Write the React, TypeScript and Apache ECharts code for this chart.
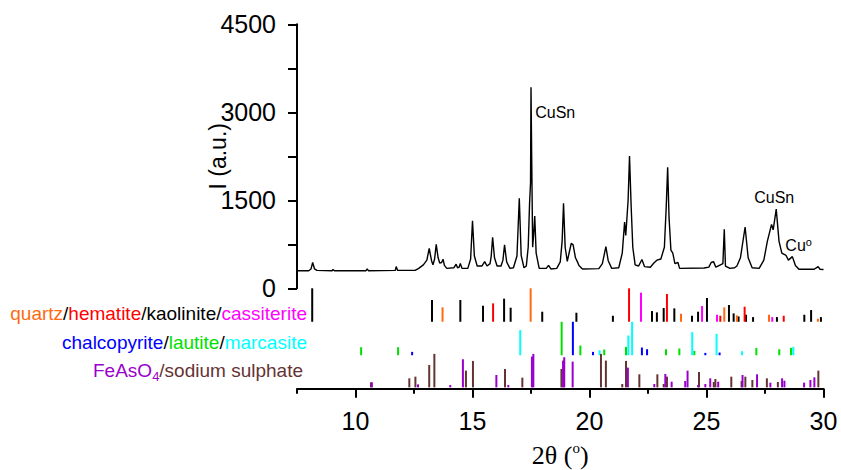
import React, { useEffect, useRef } from "react";
import * as echarts from "echarts";

// ---- axes ----
const xMin = 7.5;
const xMax = 30;
const xLabelTicks = [10, 15, 20, 25, 30];
const xMinorTicks = [7.5, 12.5, 17.5, 22.5, 27.5];
const yMin = 0;
const yMax = 4500;
const yStep = 750;
const yLabelStep = 1500;

// ---- measured XRD pattern [2theta, intensity] ----
const pattern: [number, number][] = [
  [7.5, 300], [8.0, 300], [8.1, 330], [8.17, 440], [8.25, 330], [8.35, 305],
  [9.0, 300], [9.04, 320], [9.1, 300], [10.45, 300], [10.5, 330], [10.55, 300],
  [11.7, 305], [11.74, 370], [11.8, 305], [12.55, 305], [12.7, 340], [12.9, 400],
  [13.05, 480], [13.15, 680], [13.25, 470], [13.31, 400], [13.38, 500], [13.45, 750],
  [13.53, 520], [13.6, 430], [13.68, 440], [13.74, 495], [13.8, 390], [13.9, 340],
  [14.2, 350], [14.3, 410], [14.36, 350], [14.43, 360], [14.48, 425], [14.55, 340],
  [14.8, 340], [14.92, 500], [15.0, 1150], [15.08, 550], [15.2, 380], [15.4, 380],
  [15.52, 455], [15.62, 380], [15.75, 420], [15.8, 550], [15.86, 870], [15.94, 520],
  [16.05, 380], [16.22, 380], [16.3, 480], [16.37, 740], [16.46, 450], [16.6, 340],
  [16.75, 350], [16.9, 550], [17.0, 1535], [17.08, 560], [17.2, 350], [17.3, 380],
  [17.38, 700], [17.44, 1460], [17.48, 1800], [17.5, 3426], [17.53, 2240], [17.57, 700],
  [17.61, 900], [17.66, 1230], [17.72, 600], [17.85, 340], [18.15, 340], [18.25, 390],
  [18.35, 330], [18.6, 340], [18.75, 450], [18.83, 800], [18.89, 1450], [18.96, 700],
  [19.05, 460], [19.15, 640], [19.22, 767], [19.3, 740], [19.4, 520], [19.48, 455],
  [19.55, 390], [19.7, 330], [20.4, 335], [20.55, 420], [20.7, 710], [20.8, 470],
  [20.95, 340], [21.25, 350], [21.4, 600], [21.5, 1130], [21.55, 900], [21.65, 1500],
  [21.71, 2255], [21.78, 1400], [21.85, 700], [21.95, 400], [22.1, 380], [22.24, 490],
  [22.35, 370], [22.6, 360], [22.75, 430], [22.88, 480], [23.05, 500], [23.2, 700],
  [23.28, 1400], [23.34, 2065], [23.4, 1200], [23.48, 650], [23.56, 600], [23.65, 420],
  [23.78, 440], [23.85, 340], [24.9, 345], [25.1, 360], [25.2, 440], [25.3, 455],
  [25.4, 360], [25.55, 390], [25.7, 420], [25.76, 1005], [25.81, 380], [26.0, 340],
  [26.2, 350], [26.3, 380], [26.45, 520], [26.65, 1045], [26.78, 520], [26.95, 350],
  [27.25, 340], [27.45, 480], [27.6, 800], [27.78, 1090], [27.85, 995], [27.98, 1350],
  [28.1, 800], [28.22, 600], [28.4, 560], [28.5, 480], [28.67, 540], [28.8, 390],
  [28.95, 325], [29.6, 325], [29.77, 370], [29.85, 325], [30, 320],
];

// ---- reference sticks [2theta, relative intensity 0..1] ----
const kaolinite: [number, number][] = [
  [8.15, 1.0], [13.27, 0.65], [14.48, 0.65], [15.45, 0.48], [16.35, 0.69], [16.63, 0.42],
  [17.98, 0.3], [19.44, 0.27], [21.0, 0.18], [22.67, 0.32], [22.88, 0.28], [23.17, 0.41],
  [23.625, 0.4], [24.38, 0.18], [24.64, 0.3], [25.02, 0.71], [25.96, 0.5], [26.16, 0.25],
  [26.37, 0.16], [26.69, 0.21], [26.99, 0.14], [28.01, 0.14], [29.18, 0.21], [29.47, 0.35],
  [29.89, 0.14],
];
const quartz: [number, number][] = [
  [13.72, 0.43], [17.485, 1.0], [23.91, 0.24], [25.76, 0.43], [26.3, 0.19], [27.67, 0.21],
  [29.76, 0.09],
];
const hematite: [number, number][] = [
  [15.88, 0.55], [21.69, 1.0], [23.31, 0.83], [25.59, 0.18], [26.63, 0.45], [28.3, 0.18],
];
const cassiterite: [number, number][] = [
  [22.2, 0.87], [24.81, 0.47], [25.45, 0.21], [27.81, 0.14],
];
const chalcopyrite: [number, number][] = [
  [12.42, 0.1], [19.29, 1.0], [20.15, 0.1], [22.24, 0.23], [22.46, 0.18], [24.95, 0.07],
  [25.56, 0.08],
];
const lautite: [number, number][] = [
  [10.24, 0.24], [11.82, 0.24], [18.81, 1.0], [19.61, 0.29], [20.63, 0.17], [21.56, 0.25],
  [23.27, 0.18], [23.84, 0.2], [24.48, 0.13], [27.13, 0.22], [28.11, 0.18], [28.61, 0.22],
];
const marcasite: [number, number][] = [
  [17.04, 0.75], [20.43, 0.15], [21.66, 0.59], [21.82, 1.0], [24.39, 0.69], [25.43, 0.64],
  [26.52, 0.12], [28.71, 0.25],
];
const sodiumSulphate: [number, number][] = [
  [10.66, 0.15], [12.3, 0.27], [12.56, 0.32], [13.15, 0.67], [13.37, 1.0], [14.72, 0.5],
  [15.02, 0.79], [16.39, 0.55], [17.13, 0.29], [18.8, 0.55], [20.49, 1.0], [20.7, 0.8],
  [21.4, 0.1], [21.56, 0.79], [22.13, 0.39], [22.9, 0.39], [23.17, 0.1], [23.31, 0.32],
  [24.68, 0.46], [25.31, 0.16], [25.38, 0.25], [26.06, 0.32], [26.5, 0.19], [26.66, 0.32],
  [26.96, 0.22], [27.58, 0.27], [28.05, 0.16], [29.78, 0.5],
];
const feAsO4: [number, number][] = [
  [10.7, 0.15], [12.67, 0.09], [14.05, 0.07], [14.59, 0.84], [16.02, 0.37], [16.53, 0.07],
  [17.54, 0.92], [17.6, 1.0], [18.87, 0.8], [18.92, 0.9], [19.28, 0.77], [21.64, 0.59],
  [22.77, 0.1], [23.24, 0.4], [23.51, 0.17], [24.09, 0.19], [24.19, 0.5], [24.64, 0.07],
  [24.95, 0.1], [25.16, 0.27], [25.5, 0.17], [26.54, 0.37], [27.16, 0.39], [27.73, 0.14],
  [28.23, 0.27], [28.33, 0.2], [29.17, 0.14], [29.44, 0.22], [29.61, 0.3],
];

// ---- peak annotations [2theta, intensity, text] ----
const annotations: [number, number, string][] = [
  [17.68, 2996, "CuSn"],
  [27.04, 1553, "CuSn"],
  [28.37, 738, "{a|Cu}{s|o}"],
];

const C = {
  quartz: "#FF6A10",
  hematite: "#FF0000",
  kaolinite: "#000000",
  cassiterite: "#FF00FF",
  chalcopyrite: "#0000FF",
  lautite: "#00E000",
  marcasite: "#00FFFF",
  feAsO4: "#9900CC",
  sodium: "#663333",
};

const SANS = "'Liberation Sans', Arial, Helvetica, sans-serif";
const SERIF = "'Liberation Serif', 'Times New Roman', serif";

function stickSeries(name: string, data: [number, number][], color: string, base: number) {
  return {
    type: "custom",
    name,
    xAxisIndex: 1,
    yAxisIndex: 1,
    data,
    encode: { x: 0, y: 1 },
    silent: true,
    renderItem: (_params: any, api: any) => {
      const t = api.value(0);
      const h = api.value(1);
      const p0 = api.coord([t, base]);
      const p1 = api.coord([t, base + h]);
      return {
        type: "line",
        shape: { x1: p0[0], y1: p0[1], x2: p1[0], y2: p1[1] },
        style: { stroke: color, lineWidth: 2 },
      };
    },
  };
}

export default function App() {
  const ref = useRef<HTMLDivElement>(null);
  useEffect(() => {
    const chart = echarts.init(ref.current!, null, { renderer: "svg" });
    const left = 297;
    const right = 17.5;
    const option: any = {
      animation: false,
      backgroundColor: "#ffffff",
      grid: [
        { left, right, top: 24.3, height: 264, outerBoundsMode: "none" },
        { left, right, top: 288.3, height: 100.4, outerBoundsMode: "none" },
      ],
      xAxis: [
        { type: "value", gridIndex: 0, min: xMin, max: xMax, show: false },
        {
          type: "value",
          gridIndex: 1,
          min: xMin,
          max: xMax,
          position: "bottom",
          axisLine: { show: true, lineStyle: { color: "#000", width: 2 } },
          axisTick: { show: true, inside: false, length: 9, customValues: xLabelTicks, lineStyle: { color: "#000", width: 2 } },
          axisLabel: { show: true, customValues: xLabelTicks, margin: 20, color: "#000", fontSize: 25, fontFamily: SANS },
          splitLine: { show: false },
          name: "{a|2θ (}{s|o}{a|)}",
          nameLocation: "middle",
          nameGap: 52,
          nameMoveOverlap: false,
          nameTextStyle: {
            rich: {
              a: { fontFamily: SERIF, fontSize: 26, color: "#000", lineHeight: 30 },
              s: { fontFamily: SERIF, fontSize: 15, color: "#000", lineHeight: 20, verticalAlign: "top" },
            },
          },
        },
        {
          type: "value",
          gridIndex: 1,
          min: xMin,
          max: xMax,
          position: "bottom",
          axisLine: { show: false },
          axisTick: { show: true, inside: false, length: 5, customValues: xMinorTicks, lineStyle: { color: "#000", width: 2 } },
          axisLabel: { show: false },
          splitLine: { show: false },
        },
      ],
      yAxis: [
        {
          type: "value",
          gridIndex: 0,
          min: yMin,
          max: yMax,
          interval: yStep,
          axisLine: { show: true, lineStyle: { color: "#000", width: 2 } },
          axisTick: { show: true, inside: false, length: 9, lineStyle: { color: "#000", width: 2 } },
          axisLabel: {
            margin: 21,
            color: "#000",
            fontSize: 25,
            fontFamily: SANS,
            formatter: (v: number) => (v % yLabelStep === 0 ? String(v) : ""),
          },
          splitLine: { show: false },
          name: "I (a.u.)",
          nameLocation: "middle",
          nameGap: 68,
          nameMoveOverlap: false,
          nameTextStyle: { color: "#000", fontSize: 23, fontFamily: SANS },
        },
        { type: "value", gridIndex: 1, min: 0, max: 3, show: false },
      ],
      graphic: [
        {
          type: "text",
          x: 307,
          y: 313,
          silent: true,
          style: {
            text: "{o|quartz}{k|/}{r|hematite}{k|/kaolinite/}{m|cassiterite}",
            align: "right",
            verticalAlign: "middle",
            rich: {
              o: { fill: C.quartz, fontSize: 19, fontFamily: SANS },
              k: { fill: C.kaolinite, fontSize: 19, fontFamily: SANS },
              r: { fill: C.hematite, fontSize: 19, fontFamily: SANS },
              m: { fill: C.cassiterite, fontSize: 19, fontFamily: SANS },
            },
          },
        },
        {
          type: "text",
          x: 307,
          y: 342,
          silent: true,
          style: {
            text: "{b|chalcopyrite}{k|/}{g|lautite}{k|/}{c|marcasite}",
            align: "right",
            verticalAlign: "middle",
            rich: {
              b: { fill: C.chalcopyrite, fontSize: 19, fontFamily: SANS },
              k: { fill: "#000", fontSize: 19, fontFamily: SANS },
              g: { fill: C.lautite, fontSize: 19, fontFamily: SANS },
              c: { fill: C.marcasite, fontSize: 19, fontFamily: SANS },
            },
          },
        },
        {
          type: "text",
          x: 303,
          y: 370,
          silent: true,
          style: {
            text: "{p|FeAsO}{sub|4}{n|/sodium sulphate}",
            align: "right",
            verticalAlign: "middle",
            rich: {
              p: { fill: C.feAsO4, fontSize: 19, fontFamily: SANS, lineHeight: 26 },
              sub: { fill: C.feAsO4, fontSize: 13, fontFamily: SANS, lineHeight: 13, verticalAlign: "bottom" },
              n: { fill: C.sodium, fontSize: 19, fontFamily: SANS, lineHeight: 26 },
            },
          },
        },
      ],
      series: [
        {
          type: "line",
          xAxisIndex: 0,
          yAxisIndex: 0,
          data: pattern,
          showSymbol: false,
          symbol: "none",
          lineStyle: { color: "#000", width: 1.4 },
          silent: true,
          z: 3,
          markPoint: {
            symbol: "circle",
            symbolSize: 0,
            silent: true,
            label: {
              show: true,
              position: "right",
              distance: 0,
              color: "#000",
              fontSize: 16,
              fontFamily: SANS,
              rich: {
                a: { fontSize: 16, fontFamily: SANS, color: "#000", lineHeight: 18 },
                s: { fontSize: 11, fontFamily: SANS, color: "#000", lineHeight: 12, verticalAlign: "top" },
              },
            },
            data: annotations.map(([t, v, txt]) => ({
              coord: [t, v],
              label: { formatter: txt },
            })),
          },
        },
        stickSeries("kaolinite", kaolinite, C.kaolinite, 2),
        stickSeries("quartz", quartz, C.quartz, 2),
        stickSeries("hematite", hematite, C.hematite, 2),
        stickSeries("cassiterite", cassiterite, C.cassiterite, 2),
        stickSeries("chalcopyrite", chalcopyrite, C.chalcopyrite, 1),
        stickSeries("lautite", lautite, C.lautite, 1),
        stickSeries("marcasite", marcasite, C.marcasite, 1),
        stickSeries("sodium sulphate", sodiumSulphate, C.sodium, 0.04),
        stickSeries("FeAsO4", feAsO4, C.feAsO4, 0.04),
      ],
    };
    chart.setOption(option);
    return () => chart.dispose();
  }, []);
  return (
    <div
      ref={ref}
      style={{ position: "absolute", left: 0, top: 0, width: 841, height: 470 }}
    />
  );
}
